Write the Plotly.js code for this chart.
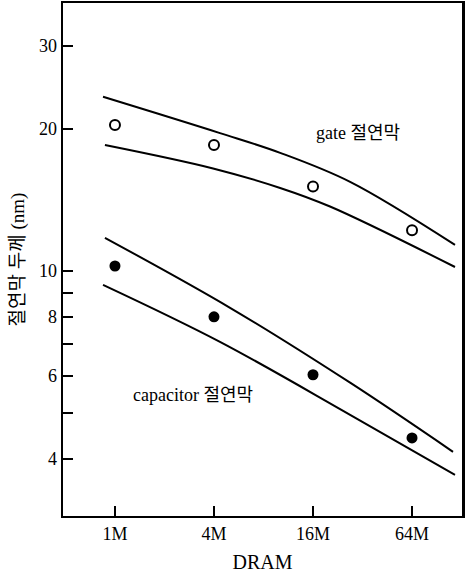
<!DOCTYPE html>
<html>
<head>
<meta charset="utf-8">
<script src="https://cdn.plot.ly/plotly-3.0.1.min.js"></script>
<style>html,body{margin:0;padding:0;background:#fff;}#chart{width:465px;height:578px;}</style>
</head>
<body>
<div id="chart"></div>
<script>
// DRAM generations (in Mbit) and tick labels
const dramVals = [1, 4, 16, 64];
const dramLabels = ['1M', '4M', '16M', '64M'];

// measured points (nm)
const gatePts = [20.4, 18.5, 15.1, 12.2];
const capPts = [10.25, 8.0, 6.03, 4.43];

// band boundary curves (x in Mbit, y in nm)
const gateUpperX = [0.846, 4.35, 10.1, 26.9, 116.8];
const gateUpperY = [23.4, 19.6, 17.8, 15.45, 11.36];
const gateLowerX = [0.869, 3.95, 10.1, 20.3, 116.8];
const gateLowerY = [18.5, 16.5, 15.0, 13.7, 10.2];
const capUpperX = [0.869, 5.01, 26.9, 113.6];
const capUpperY = [11.76, 8.36, 5.80, 4.14];
const capLowerX = [0.846, 4.35, 26.9, 116.8];
const capLowerY = [9.35, 7.08, 4.96, 3.70];

// y ticks
const yTickVals = [4, 5, 6, 7, 8, 9, 10, 20, 30];
const yTickText = ['4', '', '6', '', '8', '', '10', '20', '30'];

const serif = 'Liberation Serif, Noto Sans CJK KR, serif';
const lineStyle = {color: '#000', width: 2, shape: 'spline', smoothing: 1};

const traces = [
  {x: gateUpperX, y: gateUpperY, mode: 'lines', line: lineStyle, hoverinfo: 'skip'},
  {x: gateLowerX, y: gateLowerY, mode: 'lines', line: lineStyle, hoverinfo: 'skip'},
  {x: capUpperX, y: capUpperY, mode: 'lines', line: lineStyle, hoverinfo: 'skip'},
  {x: capLowerX, y: capLowerY, mode: 'lines', line: lineStyle, hoverinfo: 'skip'},
  {x: dramVals, y: gatePts, mode: 'markers',
   marker: {symbol: 'circle-open', size: 10, color: '#000', line: {width: 2, color: '#000'}}},
  {x: dramVals, y: capPts, mode: 'markers',
   marker: {symbol: 'circle', size: 11, color: '#000', line: {width: 0}}}
];

const layout = {
  width: 465, height: 578,
  margin: {l: 63, r: 3, t: 3, b: 62},
  paper_bgcolor: '#fff', plot_bgcolor: '#fff',
  showlegend: false,
  font: {family: serif, color: '#000', size: 18},
  xaxis: {
    type: 'log',
    range: [-0.316, 2.110],
    tickvals: dramVals, ticktext: dramLabels,
    ticks: 'inside', ticklen: 10, tickwidth: 2, tickcolor: '#000',
    showline: true, linecolor: '#000', linewidth: 2, mirror: true,
    showgrid: false, zeroline: false,
    tickfont: {family: serif, size: 18},
    title: {text: 'DRAM', font: {family: serif, size: 20}, standoff: 12}
  },
  yaxis: {
    type: 'log',
    range: [0.481, 1.568],
    tickvals: yTickVals, ticktext: yTickText,
    ticks: 'inside', ticklen: 10, tickwidth: 2, tickcolor: '#000',
    showline: true, linecolor: '#000', linewidth: 2.5, mirror: true,
    showgrid: false, zeroline: false,
    tickfont: {family: serif, size: 18},
    title: {text: '절연막 두께 (nm)', font: {family: serif, size: 19}, standoff: 10}
  },
  annotations: [
    {x: Math.log10(30), y: Math.log10(19.6), xref: 'x', yref: 'y', text: 'gate 절연막',
     showarrow: false, font: {family: serif, size: 18}, xanchor: 'center', yanchor: 'middle'},
    {x: Math.log10(3.0), y: Math.log10(5.45), xref: 'x', yref: 'y', text: 'capacitor 절연막',
     showarrow: false, font: {family: serif, size: 18}, xanchor: 'center', yanchor: 'middle'}
  ]
};

Plotly.newPlot('chart', traces, layout, {displayModeBar: false, staticPlot: true});
</script>
</body>
</html>
